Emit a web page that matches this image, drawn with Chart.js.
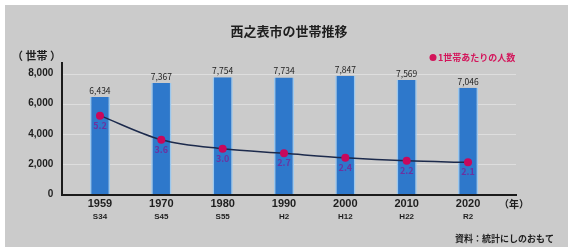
<!DOCTYPE html>
<html>
<head>
<meta charset="utf-8">
<script src="https://cdn.jsdelivr.net/npm/chart.js@4/dist/chart.umd.min.js"></script>
<style>
  html, body { margin: 0; padding: 0; background: #fff; }
  #wrap { width: 568px; height: 248px; }
</style>
</head>
<body>
<div id="wrap"><canvas id="chart" width="568" height="248"></canvas></div>
<script>
// data
const years = ["1959", "1970", "1980", "1990", "2000", "2010", "2020"];
const eras = ["S34", "S45", "S55", "H2", "H12", "H22", "R2"];
const households = [6434, 7367, 7754, 7734, 7847, 7569, 7046];
const perHousehold = [5.2, 3.6, 3.0, 2.7, 2.4, 2.2, 2.1];
const yTicks = [0, 2000, 4000, 6000, 8000];

const JP = '"Noto Sans CJK JP", "Liberation Sans", sans-serif';

// panel, gridlines, axes and all loose text
const decor = {
  id: "decor",
  beforeDraw(chart) {
    const ctx = chart.ctx;
    ctx.save();
    ctx.fillStyle = "#ffffff";
    ctx.fillRect(0, 0, chart.width, chart.height);
    ctx.fillStyle = "#cbcbcb";
    ctx.fillRect(5, 5, chart.width - 5, chart.height - 6);
    ctx.restore();
  },
  beforeDatasetsDraw(chart) {
    const ctx = chart.ctx;
    const y = chart.scales.y;
    ctx.save();
    ctx.strokeStyle = "#dedede";
    ctx.lineWidth = 1;
    yTicks.forEach(v => {
      if (v === 0) return;
      const py = Math.round(y.getPixelForValue(v)) + 0.5;
      ctx.beginPath();
      ctx.moveTo(62, py);
      ctx.lineTo(516, py);
      ctx.stroke();
    });
    ctx.restore();
  },
  afterDatasetsDraw(chart) {
    const ctx = chart.ctx;
    const y = chart.scales.y;
    const base = y.getPixelForValue(0);
    ctx.save();
    // axes
    ctx.strokeStyle = "#1b1b1b";
    ctx.lineWidth = 2;
    ctx.beginPath();
    ctx.moveTo(62, 62);
    ctx.lineTo(62, base + 1);
    ctx.lineTo(517, base + 1);
    ctx.stroke();

    // bar values
    ctx.fillStyle = "#222";
    ctx.font = "8.5px " + JP;
    ctx.textAlign = "center";
    ctx.textBaseline = "bottom";
    chart.getDatasetMeta(0).data.forEach((bar, i) => {
      ctx.fillText(households[i].toLocaleString("en-US"), bar.x, bar.y - 2);
    });

    // per household values
    ctx.fillStyle = "#6c32a0";
    ctx.font = "bold 9px " + JP;
    ctx.textBaseline = "top";
    chart.getDatasetMeta(1).data.forEach((pt, i) => {
      ctx.fillText(perHousehold[i].toFixed(1), pt.x, pt.y + 5);
    });

    // title
    ctx.fillStyle = "#1e1e1e";
    ctx.font = "bold 13px " + JP;
    ctx.textBaseline = "middle";
    ctx.textAlign = "center";
    ctx.fillText("西之表市の世帯推移", 289, 31);

    // unit labels
    ctx.font = "bold 11px " + JP;
    ctx.textAlign = "left";
    ctx.fillText("（ 世帯 ）", 12, 56);
    ctx.font = "bold 10px " + JP;
    ctx.fillText("（年）", 499, 204);

    // legend
    ctx.fillStyle = "#d3145a";
    ctx.beginPath();
    ctx.arc(433, 57.5, 3.5, 0, Math.PI * 2);
    ctx.fill();
    ctx.font = "bold 9px " + JP;
    ctx.fillText("1世帯あたりの人数", 438, 57.5);

    // source
    ctx.fillStyle = "#1e1e1e";
    ctx.font = "bold 9px " + JP;
    ctx.fillText("資料：統計にしのおもて", 455, 239);
    ctx.restore();
  }
};

new Chart(document.getElementById("chart"), {
  type: "bar",
  data: {
    labels: years,
    datasets: [{
      type: "bar",
      data: households,
      backgroundColor: "#2e78cb",
      borderColor: "#9cc8ee",
      borderWidth: { left: 1.5, right: 1.5, top: 0, bottom: 0 },
      borderSkipped: false,
      categoryPercentage: 1,
      barPercentage: 0.33,
      yAxisID: "y",
      order: 1
    }, {
      type: "line",
      data: perHousehold,
      borderColor: "#1c2a4c",
      borderWidth: 1.5,
      cubicInterpolationMode: "monotone",
      pointRadius: 4,
      pointBackgroundColor: "#c8085c",
      pointBorderColor: "#c8085c",
      pointBorderWidth: 0,
      yAxisID: "y2",
      order: 0
    }]
  },
  options: {
    responsive: false,
    animation: false,
    devicePixelRatio: 1,
    layout: { padding: { top: 73.5, left: 0, right: 69.3, bottom: 26 } },
    plugins: {
      legend: { display: false },
      title: { display: false },
      tooltip: { enabled: false }
    },
    scales: {
      x: {
        position: "bottom",
        grid: { display: false, drawTicks: false },
        border: { display: false },
        ticks: {
          color: "#1e1e1e",
          padding: 3,
          maxRotation: 0,
          font: { family: "'Liberation Sans', Arial, sans-serif", size: 11, weight: "bold" }
        },
        afterFit: s => { s.height = 16; }
      },
      x2: {
        type: "category",
        labels: eras,
        position: "bottom",
        grid: { display: false, drawTicks: false },
        border: { display: false },
        ticks: {
          color: "#1e1e1e",
          padding: 2,
          maxRotation: 0,
          font: { family: "'Liberation Sans', Arial, sans-serif", size: 8, weight: "bold" }
        },
        afterFit: s => { s.height = 12; }
      },
      y: {
        min: 0,
        max: 8000,
        grid: { display: false, drawTicks: false },
        border: { display: false },
        ticks: {
          stepSize: 2000,
          padding: 16,
          color: "#1e1e1e",
          font: { family: "'Liberation Sans', Arial, sans-serif", size: 10, weight: "bold" },
          callback: v => v.toLocaleString("en-US")
        },
        afterFit: s => { s.width = 69.3; }
      },
      y2: {
        display: false,
        min: 0,
        max: 8
      }
    }
  },
  plugins: [decor]
});
</script>
</body>
</html>
